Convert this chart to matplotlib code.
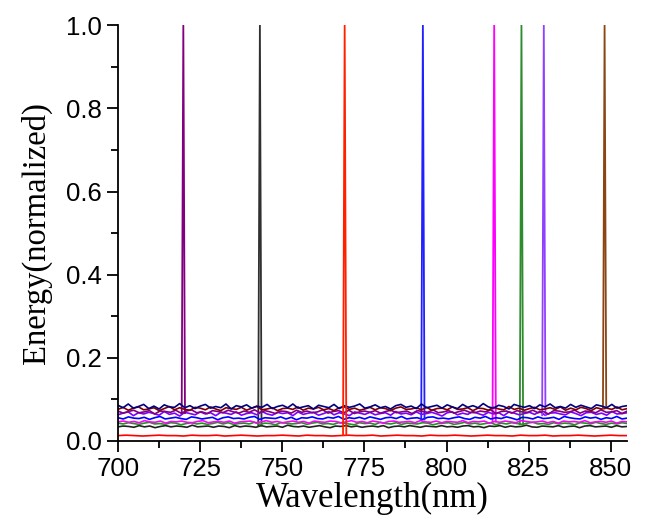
import numpy as np
import matplotlib
matplotlib.use("Agg")
import matplotlib.pyplot as plt

# baseline level and peak of every spectrum (peak=None -> no visible peak)
names = ["black", "green", "magenta", "blue", "violet", "purple", "wine", "navy", "red"]
colors = ["#202020", "#1a9a1a", "#ff00ff", "#0000ff", "#8000ff", "#800080", "#800000", "#000080", "#ff0000"]
peak_colors = ["#303030", "#2e8b2e", "#ff00ff", "#2020ff", "#9040ff", "#800080", "#8b4513", "#000080", "#ff2000"]
levels = [0.035, 0.042, 0.046, 0.055, 0.066, 0.070, 0.077, 0.082, 0.013]
peaks = [743.2, 822.8, 814.5, 792.8, 829.6, 719.9, 848.1, None, 769.0]

# baseline readings, deviations in units of 0.001 (700 -> 855 nm)
noise = {
    "navy": [4,-2,7,-3,1,6,-4,2,-5,5,0,-1,8,-2,3,-4,2,6,-3,1,-2,7,-5,3,0,5,-3,2,-1,6,-4,1,4,-2,7,-3,0,3,-5,4,1,-2,6,-4,3,-1,2,7,-3,0,5,-2,1,-5,3,6,-1,2,-4,7,-2,1,4,-3,5,0,-4,6,-1,3,-2,8,0,-3,4,1,-5,6,2,-1,3,-4,5,0,7,-2,1,-3,6,-1,4,0,-4,5,2,-2,6,-3,1,3],
    "wine": [-1,4,-3,2,5,-2,0,3,-4,1,6,-2,3,-1,-3,4,2,-2,5,0,-4,3,1,-1,4,-3,2,6,-2,0,3,-4,1,2,-1,5,-3,2,0,4,-2,1,-4,3,5,-1,2,-3,0,4,-2,3,1,-4,2,5,-1,0,3,-2,4,-3,1,2,-2,5,-1,0,3,-4,2,1,-3,4,0,-2,6,-1,2,-3,1,4,-2,0,3,-1,5,-3,2,-2,4,1,-4,3,0,2,-1,5,-2,1],
    "purple": [2,-3,1,4,-2,0,3,-5,2,1,-1,4,-3,2,5,-2,0,-4,3,1,-2,4,0,-3,2,-1,5,-2,3,0,-4,2,1,-3,4,-1,2,-2,0,5,-3,1,3,-2,4,-4,0,2,-1,3,-3,1,4,-2,0,2,-4,3,1,-1,5,-2,0,3,-3,1,4,-1,-2,2,0,5,-4,1,2,-3,3,0,-1,4,-2,1,-5,3,2,-1,0,4,-3,2,1,-2,5,-1,0,3,-4,2],
    "violet": [-3,1,4,-5,2,-1,3,0,-4,5,-2,1,-6,3,0,-3,4,-1,2,-5,3,1,-2,4,-4,0,2,-3,5,-1,-4,3,0,2,-5,4,-2,1,3,-4,0,5,-3,2,-1,-5,4,1,-2,3,-3,0,2,-4,5,-1,1,-3,4,-2,0,3,-1,-6,2,4,-3,1,-2,5,0,-4,3,-1,2,-5,4,1,-3,0,3,-2,5,-4,1,2,-1,-3,4,0,-5,2,3,-2,1,-4,5,-1,0,2],
    "blue": [1,-2,3,0,-1,2,-3,1,4,-2,0,2,-1,-3,3,1,-2,0,2,-4,1,3,-1,0,-2,2,4,-3,1,0,-1,3,-2,2,-4,1,0,3,-1,-2,2,0,4,-3,1,-1,2,-2,3,0,-3,1,2,-1,4,-2,0,1,-3,2,3,-1,0,-2,1,3,-1,-3,2,0,4,-2,1,-1,3,0,-4,2,1,-2,3,-1,0,2,-3,4,1,-1,-2,3,0,2,-3,1,-1,4,-2,0],
    "magenta": [0,2,-1,1,-2,3,0,-1,2,-3,1,0,2,-1,-2,1,3,-2,0,1,-1,2,-3,0,1,2,-2,0,3,-1,1,-2,0,2,-1,1,-3,2,0,-1,2,1,-2,0,3,-1,1,-2,2,0,-3,1,2,-1,0,1,-2,3,0,-1,2,-2,1,0,-1,3,-2,1,0,2,-3,1,-1,2,0,-2,3,1,-1,0,2,-2,1,-3,2,0,1,-1,3,-2,0,1,-1,2,-3,1,0],
    "green": [1,-1,2,0,-2,1,3,-1,0,-2,2,1,-3,0,2,-1,1,-2,0,3,-1,2,-2,0,1,-1,3,-2,1,0,-3,2,1,-1,0,2,-2,1,3,-1,0,-2,2,1,-1,-3,2,0,1,-2,3,0,-1,2,-2,1,0,-1,2,1,-3,0,1,2,-2,0,3,-1,1,-2,0,2,-3,1,-1,2,0,-2,1,3,-1,0,-2,2,-1,1,0,-3,2,1,-1,3,0,-2,1,-1,2,0],
    "black": [-1,1,0,-2,2,-1,1,-3,0,2,-1,1,0,-2,3,-1,0,1,-2,1,0,-3,2,-1,1,0,-2,2,-1,0,1,-2,3,0,-1,1,-2,0,2,-1,-3,1,0,2,-1,1,-2,0,1,-1,2,-3,0,1,-1,2,0,-2,1,0,-1,2,-1,0,-2,1,2,-1,0,-3,1,0,2,-2,1,-1,0,3,-1,-2,1,0,-1,2,-2,0,1,-3,1,2,-1,0,1,-2,2,-1,0],
    "red": [0,1,0,-1,0,1,0,0,-1,1,0,0,1,-1,0,1,0,-1,0,0,1,0,-1,1,0,0,-1,0,1,0,0,1,-1,0,1,0,0,-1,1,0,0,1,0,-1,0,1,0,0,-1,1,0,0,1,-1,0,0,1,0,-1,0,1,0,0],
}

plt.rcParams['font.family'] = 'Liberation Sans'
fig = plt.figure(figsize=(6.48, 5.25), dpi=100)
ax = fig.add_axes([0.182, 0.16, 0.786, 0.792])

half = 0.5
for name, c, pc, lev, p in zip(names, colors, peak_colors, levels, peaks):
    dev = np.array(noise[name]) / 1000.0
    x = np.linspace(700, 855, len(dev))
    y = lev + dev
    ax.plot(x, y, color=c, lw=1.2)
    if p is not None:
        i = np.argmin(abs(x - p))
        ax.plot([p - half, p, p + half], [y[i], 1.0, y[i]], color=pc, lw=1.3)

ax.set_xlim(700, 855)
ax.set_ylim(0, 1.0)
ax.set_xticks([700, 725, 750, 775, 800, 825, 850])
ax.set_yticks([0.0, 0.2, 0.4, 0.6, 0.8, 1.0])
ax.set_yticklabels(["0.0", "0.2", "0.4", "0.6", "0.8", "1.0"])
ax.xaxis.set_minor_locator(matplotlib.ticker.MultipleLocator(12.5))
ax.yaxis.set_minor_locator(matplotlib.ticker.MultipleLocator(0.1))
ax.spines['top'].set_visible(False)
ax.spines['right'].set_visible(False)
for s in ['left', 'bottom']:
    ax.spines[s].set_linewidth(1.3)
ax.tick_params(which='major', direction='out', length=8, width=1.3, labelsize=18.5)
ax.tick_params(which='minor', direction='out', length=5, width=1.3)

ax.set_xlabel('Wavelength(nm)', family='Liberation Serif', fontsize=25, labelpad=1)
ax.set_ylabel('Energy(normalized)', family='Liberation Serif', fontsize=23.5, labelpad=10)

fig.savefig('out.png', dpi=100)
